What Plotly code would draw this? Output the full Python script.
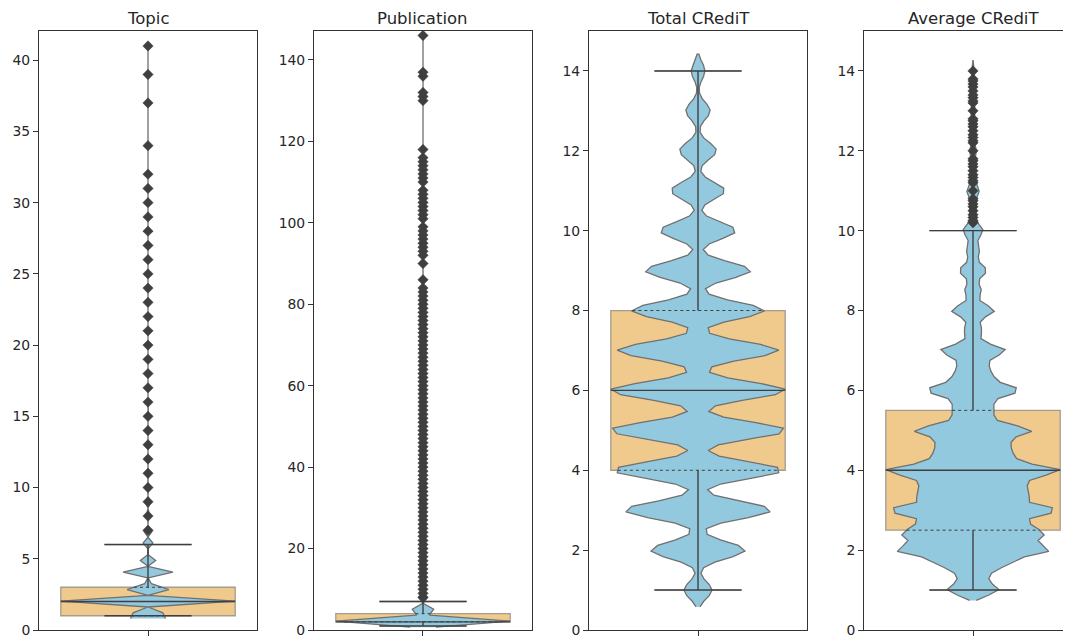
import numpy as np
import plotly.graph_objects as go

# ---------------- data ----------------
titles = ["Topic", "Publication", "Total CRediT", "Average CRediT"]

topic_values = list(range(1, 33)) + [34, 37, 39, 41]
topic_counts = [1440, 1000, 830, 342, 174, 95, 60, 40, 30, 22, 16, 12, 10, 8, 6, 5,
                4, 4, 3, 3, 2, 2, 2, 2, 2, 1, 1, 1, 1, 1, 1, 1, 1, 1, 1, 1]

pub_values = (list(range(1, 81)) +
              [81, 82, 83, 84, 86, 90, 92, 93, 94, 95, 96, 97, 98, 99, 101, 102, 103,
               104, 105, 106, 107, 108, 110, 111, 112, 113, 114, 115, 116, 118,
               130, 131, 132, 136, 137, 146])
pub_counts = ([600, 1050, 380, 700, 89, 60, 45, 30, 22, 17, 13, 10, 8, 7, 6, 6, 5, 5, 4, 4] +
              [3] * 10 + [2] * 10 + [1] * 40 + [1] * 36)

total_values = list(range(1, 15))
total_counts = [159, 535, 835, 960, 1000, 1000, 917, 755, 600, 430, 306, 210, 138, 78]

avg_values = [1, 1.25, 1.33, 1.5, 1.67, 1.75,
              2, 2.25, 2.33, 2.5, 2.67, 2.75,
              3, 3.25, 3.33, 3.5, 3.67, 3.75,
              4, 4.25, 4.33, 4.5, 4.67, 4.75,
              5, 5.25, 5.33, 5.5, 5.67, 5.75,
              6, 6.25, 6.33, 6.5, 6.67, 6.75,
              7, 7.25, 7.33, 7.5, 7.67, 7.75,
              8, 8.25, 8.33, 8.5, 8.67, 8.75,
              9, 9.25, 9.33, 9.5, 9.67, 9.75,
              10, 10.2, 10.25, 10.33, 10.4, 10.5, 10.6, 10.67, 10.75, 10.8,
              11, 11.2, 11.25, 11.33, 11.4, 11.5, 11.6, 11.67, 11.75, 11.8,
              12, 12.2, 12.25, 12.33, 12.4, 12.5, 12.6, 12.67, 12.75, 12.8,
              13, 13.2, 13.25, 13.33, 13.4, 13.5, 13.6, 13.67, 13.75, 13.8,
              14]
avg_counts = [260, 60, 60, 100, 200, 150,
              740, 220, 350, 400, 200, 220,
              820, 150, 300, 300, 200, 250,
              850, 150, 200, 200, 180, 130,
              580, 70, 90, 120, 90, 70,
              460, 100, 80, 100, 60, 60,
              330, 20, 20, 70, 20, 20,
              220, 15, 15, 70, 15, 15,
              140, 15, 15, 50, 15, 15,
              100, 4, 8, 8, 4, 15, 4, 8, 8, 4,
              60, 3, 5, 5, 3, 10, 3, 5, 5, 3,
              30, 2, 3, 3, 2, 6, 2, 3, 3, 2,
              20, 2, 2, 2, 2, 4, 2, 2, 2, 2,
              10]

panel_values = [topic_values, pub_values, total_values, avg_values]
panel_counts = [topic_counts, pub_counts, total_counts, avg_counts]

# ---------------- styling / layout parameters ----------------
kde_bandwidths = [0.10, 0.15, 0.21, 0.13]
y_ranges = [[0, 42.05], [0, 147.1], [0, 15], [0, 15]]
y_dticks = [5, 20, 2, 2]
x_domains = [[0.0, 0.21124], [0.26647, 0.47771], [0.53295, 0.74419], [0.79942, 1.0]]
x_ranges = [[-0.5, 0.5], [-0.5, 0.5], [-0.5, 0.5], [-0.5, 0.4495]]

BOX_FILL = "#EFCA8C"
BOX_EDGE = "#A39C8F"
VIOLIN_FILL = "#93C9DE"
VIOLIN_EDGE = "#707070"
DARK = "#3F3F3F"
FRAME = "#333333"
FONT = "DejaVu Sans"
BOX_W = 0.8

fig = go.Figure()


def stats(values, counts):
    data = np.repeat(np.asarray(values, float), counts)
    q1, med, q3 = np.percentile(data, [25, 50, 75])
    iqr = q3 - q1
    upper = data[data <= q3 + 1.5 * iqr].max()
    lower = data[data >= q1 - 1.5 * iqr].min()
    vals = np.asarray(values, float)
    outl = vals[(vals > upper) | (vals < lower)]
    return q1, med, q3, lower, upper, outl


def kde(values, counts, bw):
    v = np.asarray(values, float)
    c = np.asarray(counts, float)
    grid = np.linspace(v.min() - 2 * bw, v.max() + 2 * bw, 100)
    dens = (c[None, :] * np.exp(-0.5 * ((grid[:, None] - v[None, :]) / bw) ** 2)).sum(axis=1)
    half = (BOX_W / 2) * dens / dens.max()
    return grid, half


# box patches first (drawn underneath)
for i in range(4):
    k = "" if i == 0 else str(i + 1)
    q1, med, q3, lo, hi, outl = stats(panel_values[i], panel_counts[i])
    fig.add_trace(go.Box(
        x=[0], q1=[q1], median=[med], q3=[q3], lowerfence=[lo], upperfence=[hi],
        width=BOX_W, whiskerwidth=0.5, boxpoints=False,
        fillcolor=BOX_FILL, line=dict(color=BOX_EDGE, width=1.3),
        xaxis="x" + k, yaxis="y" + k, showlegend=False, hoverinfo="skip"))

for i in range(4):
    k = "" if i == 0 else str(i + 1)
    vals, cnts = panel_values[i], panel_counts[i]
    q1, med, q3, lo, hi, outl = stats(vals, cnts)
    grid, half = kde(vals, cnts, kde_bandwidths[i])

    # violin body
    fig.add_trace(go.Scatter(
        x=np.concatenate([half, -half[::-1]]),
        y=np.concatenate([grid, grid[::-1]]),
        mode="lines", fill="toself", fillcolor=VIOLIN_FILL,
        line=dict(color=VIOLIN_EDGE, width=1.3),
        xaxis="x" + k, yaxis="y" + k, showlegend=False, hoverinfo="skip"))

    # whiskers, caps, median
    cap = BOX_W / 4
    lx = [0, 0, None, 0, 0, None, -cap, cap, None, -cap, cap, None, -BOX_W / 2, BOX_W / 2]
    ly = [q3, hi, None, q1, lo, None, hi, hi, None, lo, lo, None, med, med]
    fig.add_trace(go.Scatter(
        x=lx, y=ly, mode="lines", line=dict(color=DARK, width=1.4),
        xaxis="x" + k, yaxis="y" + k, showlegend=False, hoverinfo="skip"))

    # fliers
    if len(outl):
        fig.add_trace(go.Scatter(
            x=np.zeros(len(outl)), y=outl, mode="markers",
            marker=dict(symbol="diamond", size=8, color=DARK,
                        line=dict(color=DARK, width=0.5)),
            xaxis="x" + k, yaxis="y" + k, showlegend=False, hoverinfo="skip"))

    # violin inner quartile lines
    w1 = np.interp(q1, grid, half)
    w3 = np.interp(q3, grid, half)
    fig.add_trace(go.Scatter(
        x=[-w1, w1, None, -w3, w3], y=[q1, q1, None, q3, q3], mode="lines",
        line=dict(color=DARK, width=1.0, dash="dot"),
        xaxis="x" + k, yaxis="y" + k, showlegend=False, hoverinfo="skip"))

# the page body adds an 8 px offset, so the figure is sized/margined to compensate
layout = dict(
    width=1063, height=631,
    margin=dict(l=31, r=0, t=23, b=9),
    paper_bgcolor="white", plot_bgcolor="white",
    font=dict(family=FONT, color="#262626"),
    showlegend=False,
    annotations=[],
)
for i in range(4):
    k = "" if i == 0 else str(i + 1)
    layout["xaxis" + k] = dict(
        domain=x_domains[i], range=x_ranges[i], anchor="y" + k,
        showline=True, mirror=True, linecolor=FRAME, linewidth=1,
        ticks="outside", ticklen=5, tickcolor=FRAME, tickwidth=1,
        tickvals=[0], ticktext=[""], showgrid=False, zeroline=False)
    layout["yaxis" + k] = dict(
        range=y_ranges[i], anchor="x" + k, tick0=0, dtick=y_dticks[i],
        showline=True, mirror=(i < 3), linecolor=FRAME, linewidth=1,
        ticks="outside", ticklen=5, tickcolor=FRAME, tickwidth=1,
        tickfont=dict(size=13.9, color="#262626", family=FONT),
        showgrid=False, zeroline=False)
    layout["annotations"].append(dict(
        text=titles[i], xref="x" + k, x=0, yref="paper", y=1,
        xanchor="center", yanchor="bottom", yshift=1, showarrow=False,
        font=dict(size=16.5, color="#262626", family=FONT)))

fig.update_layout(**layout)
fig.write_html("out.html")
